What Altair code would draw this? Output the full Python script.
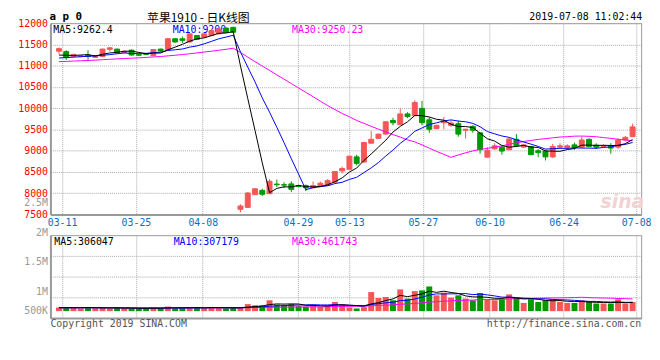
import altair as alt
import pandas as pd

# ---------------- texts ----------------
title_text = "苹果1910 - 日K线图"
symbol_text = "a p 0"
stamp_text = "2019-07-08 11:02:44"
legend_price = ["MA5:9262.4", "MA10:9200", "MA30:9250.23"]
legend_vol = ["MA5:306047", "MA10:307179", "MA30:461743"]
copyright_text = "Copyright 2019 SINA.COM"
url_text = "http://finance.sina.com.cn"

# ---------------- x ticks (trading-day index positions) ----------------
tick_labels = ["03-11", "03-25", "04-08", "04-29", "05-13", "05-27", "06-10", "06-24", "07-08"]
tick_pos = [0.43, 10.6, 19.8, 32.9, 40.0, 50.1, 59.3, 69.5, 79.5]

price_ticks = [7500, 8000, 8500, 9000, 9500, 10000, 10500, 11000, 11500, 12000]
vol_label_ticks = [500, 1000, 1500, 2000, 2500]   # thousands

# ---------------- daily candles ----------------
opens = [11340, 11330, 11215, 11215, 11250, 11195, 11215, 11385, 11390, 11305,
         11365, 11260, 11275, 11235, 11390, 11380, 11633, 11633, 11557, 11709,
         11670, 11709, 11748, 11886, 11900,
         7622, 7668, 7966, 8067, 7989, 8215, 8200, 8219, 8180, 8182,
         8127, 8182, 8182, 8258, 8526, 8563, 8855, 8733, 9176, 9291,
         9390, 9711, 9612, 9865, 9826, 9995, 9727, 9520, 9658, 9596,
         9635, 9481, 9573, 9421, 8848, 9045, 9084, 9022, 9268, 9084,
         9100, 8999, 8992, 8854, 9084, 9080, 9137, 9084, 9268, 9130,
         9100, 9114, 9084, 9252, 9330]
closes = [11400, 11190, 11265, 11230, 11215, 11240, 11390, 11420, 11305, 11340,
          11250, 11245, 11265, 11380, 11345, 11633, 11557, 11595, 11748, 11620,
          11748, 11823, 11862, 11786, 11786,
          7700, 8005, 8104, 7975, 8281, 8200, 8190, 8090, 8160, 8127,
          8180, 8235, 8297, 8510, 8580, 8871, 8701, 9192, 9268, 9390,
          9681, 9658, 9865, 9803, 10134, 9658, 9504, 9596, 9700, 9651,
          9390, 9504, 9481, 9022, 9008, 9114, 8992, 9275, 9114, 9137,
          8907, 8954, 8854, 9100, 9114, 9114, 9077, 9252, 9100, 9084,
          9120, 9061, 9252, 9314, 9560]
highs = [11430, 11365, 11280, 11250, 11365, 11250, 11400, 11440, 11400, 11360,
         11380, 11275, 11290, 11390, 11400, 11650, 11650, 11686, 11760, 11720,
         11760, 11840, 11875, 11900, 11915,
         7737, 8028, 8115, 8104, 8333, 8320, 8258, 8281, 8200, 8205,
         8274, 8274, 8330, 8520, 8625, 8880, 8907, 9200, 9460, 9400,
         9690, 9773, 9995, 9904, 10186, 10170, 9790, 9610, 9790, 9711,
         9711, 9520, 9596, 9430, 9084, 9176, 9114, 9314, 9390, 9160,
         9110, 9038, 9022, 9160, 9176, 9150, 9190, 9330, 9290, 9176,
         9150, 9176, 9290, 9344, 9635]
lows = [11270, 11135, 11200, 11200, 11135, 11185, 11200, 11330, 11290, 11290,
        11235, 11230, 11250, 11225, 11330, 11370, 11540, 11534, 11540, 11600,
        11650, 11690, 11740, 11770, 11770,
        7553, 7655, 7960, 7936, 7985, 8143, 8120, 8028, 8140, 8050,
        8120, 8160, 8170, 8250, 8470, 8550, 8655, 8720, 9170, 9280,
        9380, 9596, 9600, 9766, 9810, 9596, 9420, 9510, 9504, 9560,
        9330, 9290, 9420, 8930, 8840, 9022, 8907, 9010, 9084, 9065,
        8900, 8848, 8770, 8830, 9040, 9040, 9022, 9070, 9084, 9040,
        9080, 8930, 9040, 9215, 9320]

# moving-average lines
ma5 = [11250, 11245, 11240, 11250, 11260, 11228, 11268, 11299, 11314, 11339,
       11341, 11312, 11281, 11296, 11297, 11374, 11436, 11502, 11576, 11631,
       11654, 11707, 11760, 11768, 11801, 10991, 10228, 9476, 8714, 8013,
       8113, 8150, 8147, 8184, 8153, 8149, 8158, 8200, 8270, 8360,
       8499, 8592, 8771, 8922, 9084, 9246, 9438, 9572, 9679, 9828,
       9824, 9793, 9739, 9718, 9622, 9568, 9568, 9545, 9410, 9281,
       9226, 9123, 9082, 9101, 9126, 9085, 9077, 8993, 8990, 8986,
       9027, 9052, 9131, 9131, 9125, 9127, 9123, 9123, 9166, 9261]
ma10 = [11180, 11190, 11200, 11210, 11220, 11230, 11245, 11260, 11280, 11300,
        11285, 11290, 11290, 11305, 11318, 11357, 11374, 11392, 11436, 11464,
        11514, 11571, 11631, 11672, 11716, 11323, 10967, 10618, 10241, 9907,
        9552, 9189, 8812, 8449, 8083, 8131, 8154, 8174, 8227, 8257,
        8324, 8375, 8485, 8596, 8722, 8873, 9015, 9172, 9301, 9456,
        9535, 9615, 9656, 9699, 9725, 9696, 9681, 9642, 9564, 9451,
        9397, 9346, 9314, 9255, 9204, 9155, 9100, 9038, 9046, 9056,
        9056, 9065, 9062, 9061, 9056, 9077, 9088, 9127, 9149, 9193]
ma30 = [11095, 11100, 11108, 11115, 11122, 11130, 11140, 11150, 11160, 11168,
        11176, 11184, 11195, 11205, 11215, 11230, 11245, 11262, 11280, 11300,
        11320, 11340, 11362, 11385, 11410, 11310, 11200, 11095, 10990, 10890,
        10783, 10683, 10578, 10475, 10372, 10270, 10165, 10061, 9968, 9876,
        9797, 9712, 9643, 9572, 9507, 9442, 9379, 9321, 9256, 9207,
        9137, 9060, 8984, 8915, 8844, 8900, 8950, 8996, 9031, 9055,
        9085, 9112, 9152, 9183, 9217, 9241, 9265, 9284, 9303, 9321,
        9329, 9342, 9344, 9338, 9328, 9309, 9290, 9269, 9253, 9234]

# ---------------- volume (thousands) ----------------
volume_k = [160, 170, 150, 120, 180, 130, 140, 120, 140, 130,
            120, 110, 120, 160, 130, 200, 120, 140, 170, 160,
            130, 170, 140, 120, 160, 150, 310, 260, 250, 480,
            290, 270, 310, 220, 200, 260, 190, 262, 406, 293,
            162, 118, 175, 843, 581, 624, 480, 961, 555, 886,
            917, 1092, 699, 817, 598, 699, 555, 480, 799, 524,
            480, 524, 742, 598, 362, 524, 406, 480, 524, 406,
            362, 362, 480, 406, 336, 336, 336, 524, 336, 406]
vma5 = [150, 150, 150, 150, 156, 150, 144, 138, 142, 132,
        130, 124, 124, 128, 128, 144, 146, 150, 152, 158,
        144, 154, 154, 144, 144, 148, 176, 200, 226, 290,
        318, 310, 320, 314, 258, 252, 236, 226, 264, 282,
        263, 248, 231, 318, 376, 468, 541, 698, 640, 701,
        760, 882, 830, 882, 825, 781, 674, 630, 626, 611,
        568, 561, 614, 574, 541, 550, 526, 474, 459, 468,
        436, 427, 427, 403, 389, 384, 379, 388, 374, 388]
vma10 = [150, 150, 150, 150, 150, 150, 150, 150, 148, 144,
         140, 134, 131, 135, 130, 137, 135, 137, 140, 143,
         144, 150, 152, 148, 151, 146, 165, 177, 185, 217,
         233, 243, 260, 270, 274, 285, 273, 273, 289, 270,
         257, 242, 229, 291, 329, 365, 394, 464, 479, 539,
         614, 711, 764, 761, 763, 770, 778, 730, 754, 718,
         674, 618, 622, 600, 576, 559, 544, 544, 516, 505,
         493, 477, 450, 431, 429, 410, 403, 407, 388, 388]
vma30 = [150, 150, 150, 150, 150, 150, 150, 150, 150, 150,
         150, 150, 150, 150, 150, 150, 150, 150, 150, 150,
         150, 150, 150, 150, 150, 152, 155, 160, 164, 168,
         172, 176, 181, 184, 185, 189, 191, 196, 205, 210,
         211, 212, 214, 236, 251, 265, 277, 305, 318, 342,
         368, 399, 417, 441, 455, 474, 482, 489, 507, 509,
         515, 524, 538, 551, 556, 565, 572, 579, 583, 587,
         594, 602, 612, 597, 589, 580, 575, 560, 553, 537]

df = pd.DataFrame({
    "i": list(range(len(opens))),
    "open": opens, "close": closes, "high": highs, "low": lows,
    "ma5": ma5, "ma10": ma10, "ma30": ma30,
    "vol": volume_k, "vma5": vma5, "vma10": vma10, "vma30": vma30,
})

# ---------------- styles ----------------
MONO = "DejaVu Sans Mono"
CJK = "Noto Sans CJK SC"
RED = "#f65656"
GREEN = "#009a00"
GRID = "#aaaaaa"
FRAME = "#999999"
W, H_MAIN, H_VOL = 599, 194, 84

up = "datum.close >= datum.open"
candle_color = alt.condition(up, alt.value(RED), alt.value(GREEN))

x_scale = alt.Scale(domain=[-0.5, 79.5], nice=False, zero=False)
lab_arr = "[" + ",".join("'%s'" % t for t in tick_labels) + "]"
pos_arr = "[" + ",".join(str(p) for p in tick_pos) + "]"
x_label_expr = "%s[indexof(%s, datum.value)]" % (lab_arr, pos_arr)

x_axis_main = alt.Axis(values=tick_pos, labelExpr=x_label_expr, grid=True, gridDash=[1, 1],
                       gridColor=GRID, ticks=False, domainColor=FRAME, domainWidth=2,
                       labelColor="#0a6fc2", labelFont=MONO, labelFontSize=10,
                       labelPadding=3, labelFlush=True, title=None)
x_axis_vol = alt.Axis(values=tick_pos, labels=False, grid=True, gridDash=[1, 1],
                      gridColor=GRID, ticks=False, domainColor=FRAME, domainWidth=2, title=None)

y_scale = alt.Scale(domain=[7500, 12000], nice=False, zero=False)
y_axis_main = alt.Axis(values=price_ticks, format="d", grid=True, gridDash=[1, 1], gridColor=GRID,
                       ticks=False, domainColor=FRAME, domainWidth=2, labelColor="#ff0000",
                       labelFont=MONO, labelFontSize=10, labelPadding=3, title=None,
                       minExtent=42, maxExtent=42)

X_main = alt.X("i:Q", scale=x_scale, axis=x_axis_main)
X_vol = alt.X("i:Q", scale=x_scale, axis=x_axis_vol)


def ytext(text, x, y, color, size=10, font=MONO, align="left", baseline="top", **kw):
    return alt.Chart(pd.DataFrame({"t": [text]})).mark_text(
        align=align, baseline=baseline, font=font, fontSize=size, color=color, **kw
    ).encode(text="t:N", x=alt.value(x), y=alt.value(y))


base = alt.Chart(df)

# ---------------- main price panel ----------------
leg_main = [ytext(legend_price[0], 3, 2, "black"),
            ytext(legend_price[1], 124, 2, "#0000ff"),
            ytext(legend_price[2], 245, 2, "#ff00ff")]
wick = base.mark_rule(strokeWidth=1).encode(
    x=X_main, y=alt.Y("low:Q", scale=y_scale, axis=y_axis_main), y2="high:Q", color=candle_color)
body = base.mark_bar(size=5, strokeWidth=1).encode(
    x=X_main, y=alt.Y("open:Q", scale=y_scale, axis=y_axis_main), y2="close:Q",
    fill=candle_color, stroke=candle_color)
l30 = base.mark_line(color="#ff00ff", strokeWidth=1).encode(
    x=X_main, y=alt.Y("ma30:Q", scale=y_scale, axis=y_axis_main))
l10 = base.mark_line(color="#0000ff", strokeWidth=1).encode(
    x=X_main, y=alt.Y("ma10:Q", scale=y_scale, axis=y_axis_main))
l5 = base.mark_line(color="black", strokeWidth=1).encode(
    x=X_main, y=alt.Y("ma5:Q", scale=y_scale, axis=y_axis_main))
head = [ytext(symbol_text, -1, -6, "black", size=11, baseline="middle", fontWeight="bold"),
        ytext(title_text, 150, -5.5, "black", size=12, font=CJK, align="center",
              baseline="middle"),
        ytext(stamp_text, 600, -6, "black", size=10, align="right", baseline="middle")]
mark_wm = ytext("sina", 602, 187, "#f2d2d2", size=19, font="DejaVu Sans", align="right",
                baseline="alphabetic", fontStyle="italic", fontWeight="bold")

main = alt.layer(*leg_main, mark_wm, wick, body, l30, l10, l5, *head).properties(
    width=W, height=H_MAIN)

# ---------------- volume panel ----------------
vol_domain = [-306, 3362]
vol_scale = alt.Scale(domain=vol_domain, nice=False, zero=False)
vol_grid = [vol_domain[0] + k * (vol_domain[1] - vol_domain[0]) / 4 for k in (1, 2, 3)]
y_axis_vol = alt.Axis(values=vol_grid, labels=False, grid=True, gridDash=[1, 1], gridColor=GRID,
                      ticks=False, domainColor=FRAME, domainWidth=2, title=None,
                      minExtent=42, maxExtent=42)

vbar = base.mark_bar(size=6).encode(
    x=X_vol, y=alt.Y("vol:Q", scale=vol_scale, axis=y_axis_vol), color=candle_color)
v30 = base.mark_line(color="#ff00ff", strokeWidth=1).encode(
    x=X_vol, y=alt.Y("vma30:Q", scale=vol_scale, axis=y_axis_vol))
v10 = base.mark_line(color="#0000ff", strokeWidth=1).encode(
    x=X_vol, y=alt.Y("vma10:Q", scale=vol_scale, axis=y_axis_vol))
v5 = base.mark_line(color="black", strokeWidth=1).encode(
    x=X_vol, y=alt.Y("vma5:Q", scale=vol_scale, axis=y_axis_vol))
leg_vol = [ytext(legend_vol[0], 4, 2, "black"),
           ytext(legend_vol[1], 125, 2, "#0000ff"),
           ytext(legend_vol[2], 245, 2, "#ff00ff")]
foot = [ytext(copyright_text, 0, 85, "#555555"),
        ytext(url_text, 599, 85, "#555555", align="right")]
vol_a = alt.layer(vbar, v30, v10, v5, *leg_vol, *foot)

vol_label_axis = alt.Axis(values=vol_label_ticks, orient="left",
                          labelExpr="datum.value >= 1000 ? (datum.value / 1000) + 'M' : datum.value + 'K'",
                          grid=False, ticks=False, domain=False, labelColor="#999999",
                          labelFont=MONO, labelFontSize=10, labelPadding=3, title=None,
                          minExtent=42, maxExtent=42)
vol_b = base.transform_filter("datum.vol >= 500 && datum.vol <= 1000").mark_point(opacity=0).encode(
    x=X_vol,
    y=alt.Y("vol:Q", axis=vol_label_axis,
            scale=alt.Scale(type="linear", domain=[500, 1000, 2500], range=[76, 57, -33],
                            nice=False, zero=False)))

vol = alt.layer(vol_a, vol_b).resolve_scale(y="independent").properties(width=W, height=H_VOL)

chart = alt.vconcat(main, vol, spacing=21, bounds="flush").properties(
    padding=0, background="white"
).configure_view(stroke=FRAME, strokeWidth=1)

chart.save("out.html", embed_options={"renderer": "svg", "actions": False})
